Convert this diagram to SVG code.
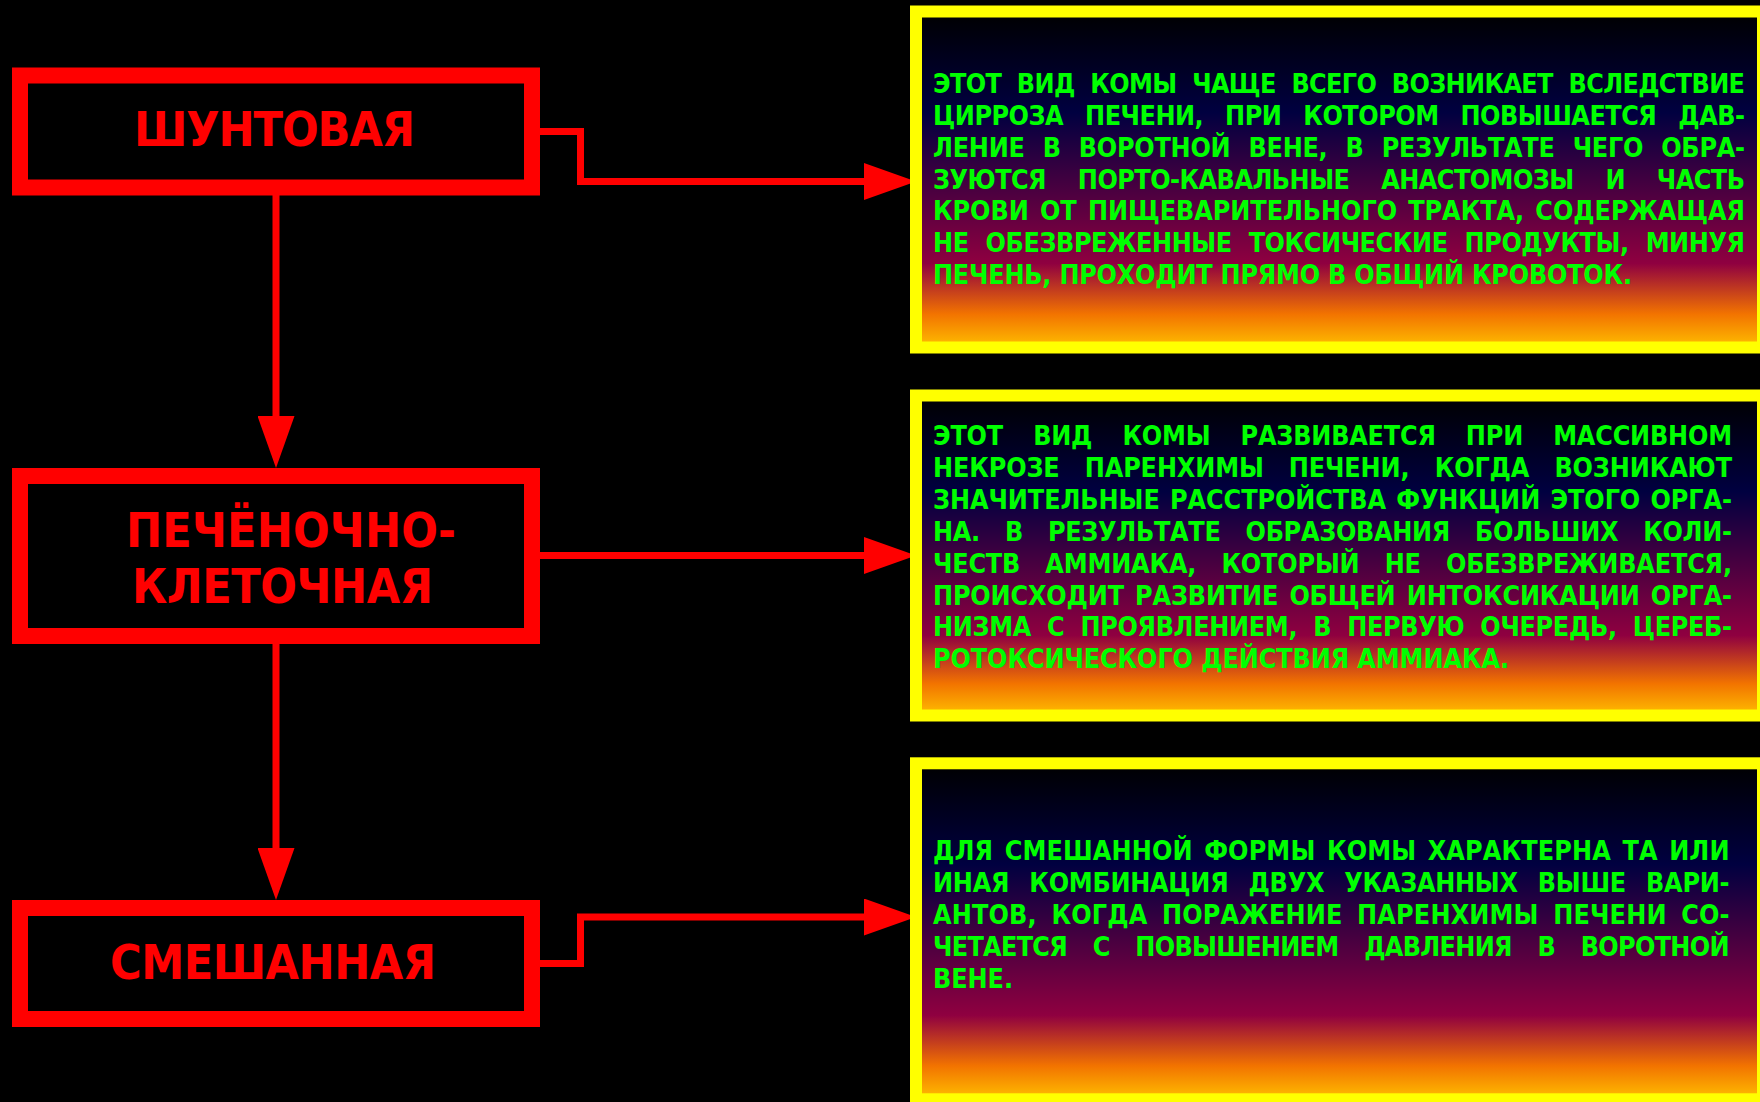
<svg xmlns="http://www.w3.org/2000/svg" width="1760" height="1102" viewBox="0 0 1760 1102">
<style>
.ttl{font-family:'DejaVu Sans Condensed','DejaVu Sans',sans-serif;font-weight:bold;font-stretch:condensed;font-size:48px;fill:#ff0000}
.bd{font-family:'DejaVu Sans Condensed','DejaVu Sans',sans-serif;font-weight:bold;font-stretch:condensed;font-size:26.67px;fill:#00ff00}
.node rect{fill:none;stroke:#ff0000;stroke-width:16}
.info rect{fill:url(#sunset);stroke:#ffff00;stroke-width:12}
.conn path{fill:none;stroke:#ff0000;stroke-width:7}
</style>
<defs>
<linearGradient id="sunset" x1="0" y1="0" x2="0" y2="1">
<stop offset="0" stop-color="#000000"/>
<stop offset="0.3" stop-color="#000040"/>
<stop offset="0.5" stop-color="#400040"/>
<stop offset="0.75" stop-color="#8F0040"/>
<stop offset="0.9" stop-color="#F27300"/>
<stop offset="1" stop-color="#FFBF00"/>
</linearGradient>
<marker id="ah" viewBox="0 0 52 37" refX="40" refY="18.5" markerWidth="52" markerHeight="37" markerUnits="userSpaceOnUse" orient="auto">
<path d="M0,0 L52,18.5 L0,37 Z" fill="#ff0000"/>
</marker>
</defs>
<rect x="0" y="0" width="1760" height="1102" fill="#000000"/>

<g id="connectors" class="conn">
<path d="M540,131.5 H580.5 V181.5 H904" marker-end="url(#ah)"/>
<path d="M540,555.5 H904" marker-end="url(#ah)"/>
<path d="M540,963.5 H580.5 V917 H904" marker-end="url(#ah)"/>
<path d="M276,195 V456" marker-end="url(#ah)"/>
<path d="M276,644 V888" marker-end="url(#ah)"/>
</g>

<g id="node-shunt" class="node">
<rect x="20" y="75.5" width="512" height="112"/>
<text class="ttl" x="134" y="145.5" textLength="281" lengthAdjust="spacing">ШУНТОВАЯ</text>
</g>
<g id="node-hepatocellular" class="node">
<rect x="20" y="476" width="512" height="160"/>
<text class="ttl" x="126" y="546.5" textLength="330" lengthAdjust="spacing">ПЕЧЁНОЧНО-</text>
<text class="ttl" x="132" y="603" textLength="301" lengthAdjust="spacing">КЛЕТОЧНАЯ</text>
</g>
<g id="node-mixed" class="node">
<rect x="20" y="908" width="512" height="111"/>
<text class="ttl" x="110" y="979" textLength="326" lengthAdjust="spacing">СМЕШАННАЯ</text>
</g>

<g id="info-shunt" class="info">
<rect x="916" y="11.5" width="847" height="336"/>
<text class="bd" x="933" y="92.8" textLength="812" lengthAdjust="spacing" word-spacing="8">ЭТОТ ВИД КОМЫ ЧАЩЕ ВСЕГО ВОЗНИКАЕТ ВСЛЕДСТВИЕ</text>
<text class="bd" x="933" y="124.7" textLength="812" lengthAdjust="spacing" word-spacing="14">ЦИРРОЗА ПЕЧЕНИ, ПРИ КОТОРОМ ПОВЫШАЕТСЯ ДАВ-</text>
<text class="bd" x="933" y="156.6" textLength="812" lengthAdjust="spacing" word-spacing="10">ЛЕНИЕ В ВОРОТНОЙ ВЕНЕ, В РЕЗУЛЬТАТЕ ЧЕГО ОБРА-</text>
<text class="bd" x="933" y="188.5" textLength="812" lengthAdjust="spacing" word-spacing="24">ЗУЮТСЯ ПОРТО-КАВАЛЬНЫЕ АНАСТОМОЗЫ И ЧАСТЬ</text>
<text class="bd" x="933" y="220.4" textLength="812" lengthAdjust="spacing" word-spacing="3">КРОВИ ОТ ПИЩЕВАРИТЕЛЬНОГО ТРАКТА, СОДЕРЖАЩАЯ</text>
<text class="bd" x="933" y="252.3" textLength="812" lengthAdjust="spacing" word-spacing="9">НЕ ОБЕЗВРЕЖЕННЫЕ ТОКСИЧЕСКИЕ ПРОДУКТЫ, МИНУЯ</text>
<text class="bd" x="933" y="284.2" textLength="699" lengthAdjust="spacing">ПЕЧЕНЬ, ПРОХОДИТ ПРЯМО В ОБЩИЙ КРОВОТОК.</text>
</g>

<g id="info-hepatocellular" class="info">
<rect x="916" y="395.5" width="847" height="320"/>
<text class="bd" x="933" y="445" textLength="799" lengthAdjust="spacing" word-spacing="22">ЭТОТ ВИД КОМЫ РАЗВИВАЕТСЯ ПРИ МАССИВНОМ</text>
<text class="bd" x="933" y="476.9" textLength="799" lengthAdjust="spacing" word-spacing="17">НЕКРОЗЕ ПАРЕНХИМЫ ПЕЧЕНИ, КОГДА ВОЗНИКАЮТ</text>
<text class="bd" x="933" y="508.8" textLength="799" lengthAdjust="spacing" word-spacing="2">ЗНАЧИТЕЛЬНЫЕ РАССТРОЙСТВА ФУНКЦИЙ ЭТОГО ОРГА-</text>
<text class="bd" x="933" y="540.7" textLength="799" lengthAdjust="spacing" word-spacing="17">НА. В РЕЗУЛЬТАТЕ ОБРАЗОВАНИЯ БОЛЬШИХ КОЛИ-</text>
<text class="bd" x="933" y="572.6" textLength="799" lengthAdjust="spacing" word-spacing="17">ЧЕСТВ АММИАКА, КОТОРЫЙ НЕ ОБЕЗВРЕЖИВАЕТСЯ,</text>
<text class="bd" x="933" y="604.5" textLength="799" lengthAdjust="spacing" word-spacing="3">ПРОИСХОДИТ РАЗВИТИЕ ОБЩЕЙ ИНТОКСИКАЦИИ ОРГА-</text>
<text class="bd" x="933" y="636.4" textLength="799" lengthAdjust="spacing" word-spacing="8">НИЗМА С ПРОЯВЛЕНИЕМ, В ПЕРВУЮ ОЧЕРЕДЬ, ЦЕРЕБ-</text>
<text class="bd" x="933" y="668.3" textLength="576" lengthAdjust="spacing">РОТОКСИЧЕСКОГО ДЕЙСТВИЯ АММИАКА.</text>
</g>

<g id="info-mixed" class="info">
<rect x="916" y="763.3" width="847" height="336"/>
<text class="bd" x="933" y="860" textLength="796.5" lengthAdjust="spacing" word-spacing="3">ДЛЯ СМЕШАННОЙ ФОРМЫ КОМЫ ХАРАКТЕРНА ТА ИЛИ</text>
<text class="bd" x="933" y="891.9" textLength="796.5" lengthAdjust="spacing" word-spacing="12">ИНАЯ КОМБИНАЦИЯ ДВУХ УКАЗАННЫХ ВЫШЕ ВАРИ-</text>
<text class="bd" x="933" y="923.8" textLength="796.5" lengthAdjust="spacing" word-spacing="6">АНТОВ, КОГДА ПОРАЖЕНИЕ ПАРЕНХИМЫ ПЕЧЕНИ СО-</text>
<text class="bd" x="933" y="955.7" textLength="796.5" lengthAdjust="spacing" word-spacing="18">ЧЕТАЕТСЯ С ПОВЫШЕНИЕМ ДАВЛЕНИЯ В ВОРОТНОЙ</text>
<text class="bd" x="933" y="987.6" textLength="80" lengthAdjust="spacing">ВЕНЕ.</text>
</g>
</svg>
